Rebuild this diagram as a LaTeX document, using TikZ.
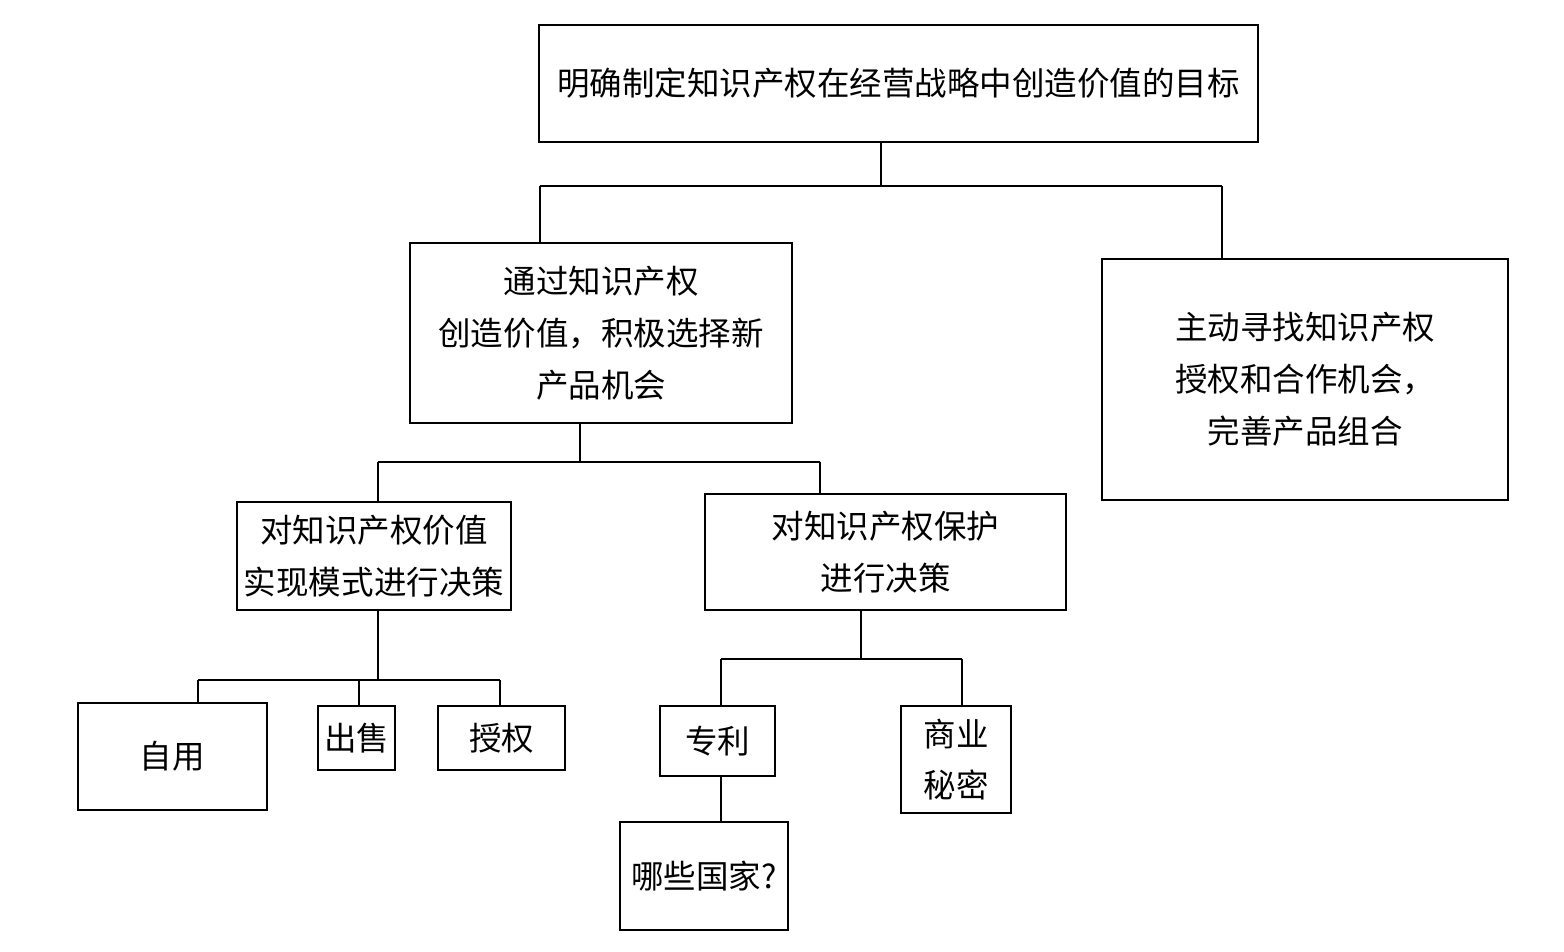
\documentclass[tikz,border=0pt]{standalone}
\usepackage{fontspec}
\setmainfont{Noto Sans CJK SC}
\begin{document}
\begin{tikzpicture}[x=0.02cm, y=-0.02cm,
    box/.style 2 args={rectangle, draw, line width=1.1pt, inner sep=0pt, align=center,
      minimum width=#1*0.02cm, minimum height=#2*0.02cm,
      font=\fontsize{18.5}{29.5}\selectfont},
    link/.style={line width=1.3pt}]
    \useasboundingbox (0,0) rectangle (1564,951);

    % 节点
    \node[box={719}{117}] (goal) at (898.5, 83.5) {明确制定知识产权在经营战略中创造价值的目标};
    \node[box={382}{180}] (create) at (601, 333) {通过知识产权\\创造价值，积极选择新\\产品机会};
    \node[box={406}{241}] (seek) at (1305, 379.5) {主动寻找知识产权\\授权和合作机会，\\完善产品组合};
    \node[box={274}{108}] (mode) at (374, 556) {对知识产权价值\\实现模式进行决策};
    \node[box={361}{116}] (protect) at (885.5, 552) {对知识产权保护\\进行决策};
    \node[box={189}{107}] (selfuse) at (172.5, 756.5) {自用};
    \node[box={77}{64}] (sell) at (356.5, 738) {出售};
    \node[box={127}{64}] (license) at (501.5, 738) {授权};
    \node[box={115}{70}] (patent) at (717.5, 741) {专利};
    \node[box={110}{107}] (secret) at (956, 759.5) {商业\\秘密};
    \node[box={168}{108}] (country) at (704, 876) {哪些国家?};

    % 分支点
    \coordinate (j1) at (881, 186);
    \coordinate (j1l) at (540, 186);
    \coordinate (j1r) at (1222, 186);
    \coordinate (j2) at (580, 462);
    \coordinate (j2l) at (378, 462);
    \coordinate (j2r) at (820, 462);
    \coordinate (j3) at (378, 680);
    \coordinate (j3l) at (198, 680);
    \coordinate (j3m) at (359, 680);
    \coordinate (j3r) at (500, 680);
    \coordinate (j4) at (861, 659);
    \coordinate (j4l) at (721, 659);
    \coordinate (j4r) at (962, 659);

    % 连线
    \draw[link] (goal.south -| j1) -- (j1);
    \draw[link] (j1l) -- (j1r);
    \draw[link] (j1l) -- (j1l |- create.north);
    \draw[link] (j1r) -- (j1r |- seek.north);

    \draw[link] (create.south -| j2) -- (j2);
    \draw[link] (j2l) -- (j2r);
    \draw[link] (j2l) -- (j2l |- mode.north);
    \draw[link] (j2r) -- (j2r |- protect.north);

    \draw[link] (mode.south -| j3) -- (j3);
    \draw[link] (j3l) -- (j3r);
    \draw[link] (j3l) -- (j3l |- selfuse.north);
    \draw[link] (j3m) -- (j3m |- sell.north);
    \draw[link] (j3r) -- (j3r |- license.north);

    \draw[link] (protect.south -| j4) -- (j4);
    \draw[link] (j4l) -- (j4r);
    \draw[link] (j4l) -- (j4l |- patent.north);
    \draw[link] (j4r) -- (j4r |- secret.north);

    \draw[link] (patent.south -| j4l) -- (j4l |- country.north);
\end{tikzpicture}
\end{document}
